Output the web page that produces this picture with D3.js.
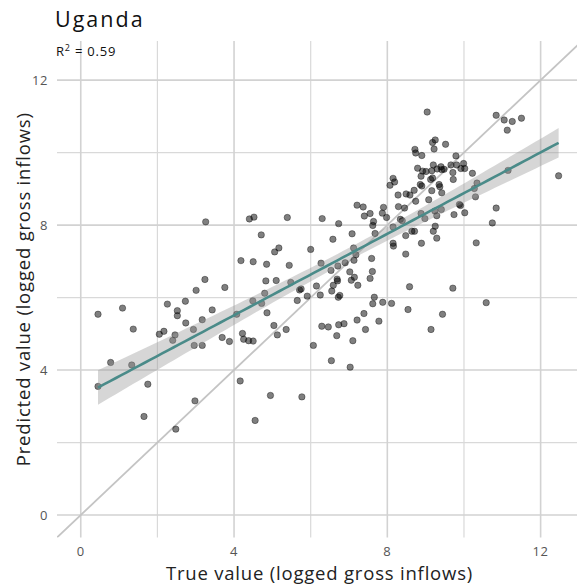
<!DOCTYPE html>
<html>
<head>
<meta charset="utf-8">
<script src="https://cdn.jsdelivr.net/npm/d3@7"></script>
<style>
  html, body { margin: 0; padding: 0; background: #fff; }
  svg { display: block; }
  text { font-family: "Open Sans", "DejaVu Sans", sans-serif; }
</style>
</head>
<body>
<script>
// ---- Data ----
const titleText = "Uganda";
const r2Label = "0.59";
const xAxisTitle = "True value (logged gross inflows)";
const yAxisTitle = "Predicted value (logged gross inflows)";
const majorTicks = [0, 4, 8, 12];
const minorTicks = [2, 6, 10];
const axisDomain = [-0.62, 13.08];

const trueValue = [
  0.45, 1.09, 1.37, 0.78, 1.33, 0.45, 1.75, 1.65, 2.48, 2.98,
  2.26, 2.73, 2.52, 2.52, 2.74, 2.05, 2.17, 2.46, 2.40, 2.94,
  2.96, 3.17, 3.17, 3.43, 3.01, 3.24, 3.76, 4.18, 4.50, 3.69,
  3.88, 4.22, 4.25, 4.38, 4.50, 4.07, 4.49, 4.16, 4.55, 3.26,
  4.40, 4.52, 5.39, 6.30, 7.21, 7.37, 7.90, 8.28, 7.40, 7.55,
  7.87, 7.98, 6.73, 7.64, 7.62, 4.71, 6.58, 7.08, 7.68, 8.15,
  8.15, 8.16, 6.00, 5.06, 5.17, 4.85, 5.44, 6.27, 7.12, 7.18,
  7.13, 6.90, 6.71, 6.53, 7.02, 7.59, 7.61, 7.55, 7.14, 7.06,
  7.23, 6.69, 6.70, 6.59, 6.15, 6.55, 6.72, 6.76, 6.25, 5.91,
  5.71, 5.75, 5.65, 5.48, 5.10, 4.83, 4.80, 4.72, 4.86, 5.04,
  5.36, 5.13, 6.07, 6.29, 6.46, 6.73, 6.87, 6.68, 7.10, 6.54,
  7.03, 7.21, 7.39, 7.43, 7.78, 7.66, 7.62, 7.88, 8.11, 8.54,
  4.95, 5.77, 9.04, 10.84, 11.05, 11.26, 11.50, 11.13, 12.47, 11.15,
  9.25, 9.18, 9.52, 8.72, 8.74, 9.22, 8.90, 9.79, 9.20, 9.40,
  8.79, 8.92, 9.01, 9.16, 9.30, 9.42, 9.48, 9.66, 9.81, 9.99,
  9.92, 10.02, 9.71, 10.22, 8.88, 9.18, 9.13, 9.72, 8.15, 8.19,
  8.07, 8.86, 8.90, 9.35, 9.37, 10.34, 10.27, 8.49, 8.59, 8.70,
  9.16, 9.42, 10.30, 9.08, 8.74, 9.88, 9.91, 8.29, 8.45, 9.24,
  9.29, 9.41, 10.84, 10.02, 9.74, 8.98, 8.88, 8.34, 8.39, 10.74,
  9.25, 8.48, 8.64, 8.71, 9.20, 9.29, 8.89, 10.32, 8.48, 8.58,
  9.71, 9.44, 9.14, 10.58
];
const predictedValue = [
  5.54, 5.71, 5.13, 4.21, 4.14, 3.55, 3.61, 2.72, 2.37, 3.15,
  5.82, 5.90, 5.64, 5.50, 5.30, 4.99, 5.07, 4.97, 4.82, 5.12,
  4.68, 4.68, 5.39, 5.66, 6.20, 6.50, 6.28, 7.02, 6.99, 4.90,
  4.79, 5.01, 4.85, 4.81, 4.80, 5.54, 5.91, 3.70, 2.61, 8.09,
  8.17, 8.22, 8.21, 8.18, 8.55, 8.50, 8.49, 8.83, 8.25, 8.32,
  8.33, 8.21, 8.04, 8.10, 7.99, 7.73, 7.61, 7.76, 7.77, 7.95,
  7.50, 7.42, 7.33, 7.26, 7.37, 6.92, 6.89, 6.95, 7.37, 7.18,
  7.03, 6.96, 6.87, 6.75, 6.71, 7.08, 6.72, 6.53, 6.56, 6.48,
  6.34, 6.51, 6.46, 6.34, 6.32, 6.18, 6.01, 6.06, 6.07, 6.04,
  6.21, 6.24, 5.92, 6.42, 6.47, 6.46, 6.12, 5.84, 5.58, 5.23,
  5.12, 4.97, 4.68, 5.21, 5.19, 5.25, 5.28, 4.95, 4.81, 4.26,
  4.08, 5.38, 5.56, 5.12, 5.35, 6.01, 5.83, 5.87, 5.84, 5.67,
  3.30, 3.26, 11.12, 11.03, 10.90, 10.86, 10.95, 10.62, 9.36, 9.51,
  10.35, 10.28, 10.23, 10.09, 9.99, 10.10, 9.92, 9.91, 9.66, 9.61,
  9.57, 9.49, 9.48, 9.50, 9.55, 9.53, 9.54, 9.66, 9.66, 9.70,
  9.56, 9.56, 9.45, 9.43, 9.35, 9.30, 9.26, 9.26, 9.29, 9.19,
  9.10, 9.12, 9.08, 9.12, 9.06, 9.16, 9.01, 8.86, 8.83, 8.96,
  8.95, 8.89, 8.78, 8.70, 8.66, 8.57, 8.54, 8.51, 8.47, 8.39,
  8.26, 8.43, 8.47, 8.34, 8.29, 8.18, 8.32, 8.16, 8.12, 8.06,
  7.97, 7.71, 7.83, 7.83, 7.83, 7.64, 7.50, 7.51, 7.20, 6.30,
  6.26, 5.54, 5.12, 5.86
];

// ---- Layout ----
const W = 577, H = 586;
const panel = { left: 57, right: 582, top: 41, bottom: 537.5 };

const svg = d3.select("body").append("svg")
  .attr("width", W).attr("height", H);

const x = d3.scaleLinear().domain(axisDomain).range([panel.left, panel.right]);
const y = d3.scaleLinear().domain(axisDomain).range([panel.bottom, panel.top]);

const gridColor = "#d9d9d9";
const grid = svg.append("g");
minorTicks.forEach(t => {
  grid.append("line").attr("x1", x(t)).attr("x2", x(t)).attr("y1", panel.top).attr("y2", panel.bottom)
    .attr("stroke", gridColor).attr("stroke-width", 1.2);
  grid.append("line").attr("y1", y(t)).attr("y2", y(t)).attr("x1", panel.left).attr("x2", panel.right)
    .attr("stroke", gridColor).attr("stroke-width", 1.2);
});
majorTicks.forEach(t => {
  grid.append("line").attr("x1", x(t)).attr("x2", x(t)).attr("y1", panel.top).attr("y2", panel.bottom)
    .attr("stroke", "#d2d2d2").attr("stroke-width", 1.6);
  grid.append("line").attr("y1", y(t)).attr("y2", y(t)).attr("x1", panel.left).attr("x2", panel.right)
    .attr("stroke", "#d2d2d2").attr("stroke-width", 1.6);
});

// clip to panel
svg.append("clipPath").attr("id", "clip").append("rect")
  .attr("x", panel.left).attr("y", panel.top)
  .attr("width", panel.right - panel.left).attr("height", panel.bottom - panel.top);

const plot = svg.append("g").attr("clip-path", "url(#clip)");

// 45-degree reference line
plot.append("line")
  .attr("x1", x(axisDomain[0])).attr("y1", y(axisDomain[0]))
  .attr("x2", x(axisDomain[1])).attr("y2", y(axisDomain[1]))
  .attr("stroke", "#c4c4c4").attr("stroke-width", 1.8);

// points
const pts = trueValue.map((v, i) => ({ x: v, y: predictedValue[i] }));
plot.append("g").selectAll("circle").data(pts).join("circle")
  .attr("cx", d => x(d.x)).attr("cy", d => y(d.y)).attr("r", 3.2)
  .attr("fill", "#000").attr("fill-opacity", 0.5)
  .attr("stroke", "#000").attr("stroke-opacity", 0.4).attr("stroke-width", 0.9);

// linear fit with 95% CI (as geom_smooth(method = "lm"))
const n = pts.length;
const mx = d3.mean(pts, d => d.x), my = d3.mean(pts, d => d.y);
const sxx = d3.sum(pts, d => (d.x - mx) ** 2);
const sxy = d3.sum(pts, d => (d.x - mx) * (d.y - my));
const b1 = sxy / sxx, b0 = my - b1 * mx;
const sse = d3.sum(pts, d => (d.y - (b0 + b1 * d.x)) ** 2);
const s = Math.sqrt(sse / (n - 2));
const tq = 1.972;
const [xmin, xmax] = d3.extent(pts, d => d.x);
const fitX = d3.range(80).map(i => xmin + (xmax - xmin) * i / 79);
const fit = fitX.map(v => {
  const yh = b0 + b1 * v;
  const se = s * Math.sqrt(1 / n + (v - mx) ** 2 / sxx);
  return { x: v, y: yh, lo: yh - tq * se, hi: yh + tq * se };
});

plot.append("path").datum(fit)
  .attr("d", d3.area().x(d => x(d.x)).y0(d => y(d.lo)).y1(d => y(d.hi)))
  .attr("fill", "#999999").attr("fill-opacity", 0.4);
plot.append("path").datum(fit)
  .attr("d", d3.line().x(d => x(d.x)).y(d => y(d.y)))
  .attr("fill", "none").attr("stroke", "#4a8b89").attr("stroke-width", 2.6);

// axis tick labels
const tickColor = "#555";
svg.append("g").selectAll("text").data(majorTicks).join("text")
  .attr("x", d => x(d)).attr("y", 556)
  .attr("text-anchor", "middle").attr("font-size", 13).attr("fill", tickColor)
  .attr("letter-spacing", 0.6)
  .text(d => d);
svg.append("g").selectAll("text").data(majorTicks).join("text")
  .attr("x", 48).attr("y", d => y(d)).attr("dy", "0.35em")
  .attr("text-anchor", "end").attr("font-size", 13).attr("fill", tickColor)
  .attr("letter-spacing", 0.6)
  .text(d => d);

// axis titles
svg.append("text").attr("x", (panel.left + panel.right) / 2).attr("y", 580)
  .attr("text-anchor", "middle").attr("font-size", 18.5).attr("fill", "#222")
  .attr("letter-spacing", 0.8)
  .text(xAxisTitle);
svg.append("text")
  .attr("transform", `translate(30,${(panel.top + panel.bottom) / 2}) rotate(-90)`)
  .attr("text-anchor", "middle").attr("font-size", 18.5).attr("fill", "#222")
  .attr("letter-spacing", 0.8)
  .text(yAxisTitle);

// title and R² annotation
svg.append("text").attr("x", 55).attr("y", 27)
  .attr("font-size", 21.5).attr("fill", "#111").attr("letter-spacing", 2)
  .text(titleText);
const r2 = svg.append("text").attr("x", 56).attr("y", 56)
  .attr("font-size", 13).attr("fill", "#111").attr("letter-spacing", 0.8);
r2.append("tspan").text("R");
r2.append("tspan").attr("font-size", 9).attr("dy", -5).text("2");
r2.append("tspan").attr("dy", 5).text(" = " + r2Label);
</script>
</body>
</html>
